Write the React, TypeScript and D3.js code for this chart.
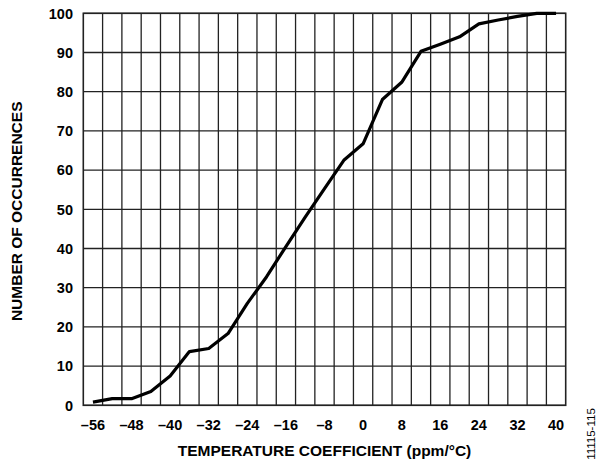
import React from "react";
import * as d3 from "d3";

const tempCoeff = [-56, -52, -48, -44, -40, -36, -32, -28, -24, -20, -16, -12, -8, -4, 0, 4, 8, 12, 16, 20, 24, 28, 32, 36, 40];
const occurrences = [0.8, 1.7, 1.7, 3.5, 7.5, 13.7, 14.5, 18.3, 26, 32.8, 40.5, 48, 55.3, 62.5, 66.7, 78, 82.4, 90.3, 92.1, 94, 97.3, 98.3, 99.2, 100, 100];
const xTicks = [-56, -48, -40, -32, -24, -16, -8, 0, 8, 16, 24, 32, 40];
const yTicks = [0, 10, 20, 30, 40, 50, 60, 70, 80, 90, 100];
const xGrid = d3.range(-54, 42, 4);

const W = 599, H = 463;
const L = 83.3, R = 565.7, T = 13.3, B = 405.3;

export default function App() {
  const x = d3.scaleLinear().domain([-58, 42]).range([L, R]);
  const y = d3.scaleLinear().domain([0, 100]).range([B, T]);
  const line = d3.line<number>().x((_, i) => x(tempCoeff[i])).y((d) => y(d));
  const font = "'Liberation Sans', Arial, sans-serif";
  return (
    <svg width={W} height={H} style={{ position: "absolute", left: 0, top: 0, background: "#fff" }} fontFamily={font}>
      {yTicks.map((t) => (
        <line key={"h" + t} x1={L} x2={R} y1={y(t)} y2={y(t)} stroke="#222" strokeWidth={1.3} />
      ))}
      {xGrid.map((t) => (
        <line key={"v" + t} x1={x(t)} x2={x(t)} y1={T} y2={B} stroke="#222" strokeWidth={1.3} />
      ))}
      <rect x={L} y={T} width={R - L} height={B - T} fill="none" stroke="#222" strokeWidth={1.6} />
      <path d={line(occurrences) || ""} fill="none" stroke="#000" strokeWidth={3.2} strokeLinejoin="round" />
      {yTicks.map((t) => (
        <text key={"yl" + t} x={73} y={y(t)} dy="0.36em" textAnchor="end" fontSize={14.5} fontWeight="bold">{t}</text>
      ))}
      {xTicks.map((t) => (
        <text key={"xl" + t} x={x(t)} y={429.5} textAnchor="middle" fontSize={14.5} fontWeight="bold">
          {t < 0 ? "\u2013" + Math.abs(t) : String(t)}
        </text>
      ))}
      <text x={(L + R) / 2} y={456} textAnchor="middle" fontSize={15.5} fontWeight="bold">TEMPERATURE COEFFICIENT (ppm/°C)</text>
      <text transform={`translate(21.5,${(T + B) / 2 + 2}) rotate(-90)`} textAnchor="middle" fontSize={15.5} fontWeight="bold">NUMBER OF OCCURRENCES</text>
      <text transform={`translate(595,434) rotate(-90)`} textAnchor="middle" fontSize={11.5}>11115-115</text>
    </svg>
  );
}
